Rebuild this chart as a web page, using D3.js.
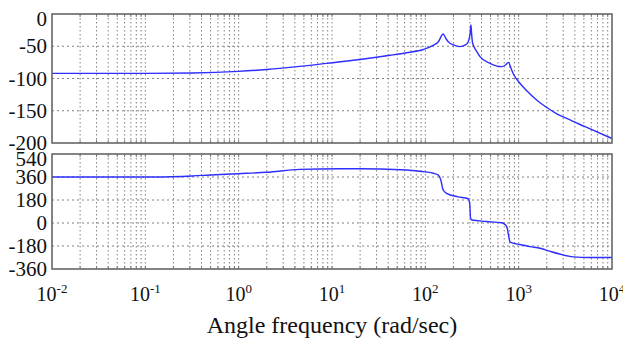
<!DOCTYPE html>
<html>
<head>
<meta charset="utf-8">
<script src="https://cdn.jsdelivr.net/npm/d3@7"></script>
<style>
  html, body { margin: 0; padding: 0; background: #fff; }
  svg { display: block; }
</style>
</head>
<body style="font-family:'Liberation Serif'">
<svg id="chart" width="623" height="340" style="font-family:'Liberation Serif'"></svg>
<script>
// Bode plot: magnitude (dB) on top, phase (deg) below, shared log frequency axis.

const xTickExps = [-2, -1, 0, 1, 2, 3, 4];
const magTicks = [0, -50, -100, -150, -200];
const phaseTicks = [540, 360, 180, 0, -180, -360];

// frequency (rad/sec) and magnitude (dB)
const magFreq = [0.01, 0.1, 0.32, 1, 2, 4, 8.8, 20, 42, 63, 95, 120, 138, 155, 166, 176,
  200, 234, 269, 288, 302, 308, 313, 321, 355, 385, 493, 658, 724, 775, 832, 877, 1000,
  1220, 1580, 2000, 2510, 3270, 5010, 10000];
const magDb = [-92, -92, -91.5, -89, -86, -82, -76.5, -70.5, -64, -60, -55, -49, -43, -31, -38, -43,
  -48, -50.6, -48, -43, -30, -17, -30, -45, -58, -66, -76.5, -81.6, -79, -75, -85, -93, -105,
  -119, -134, -145, -154, -162, -174, -193];

// frequency (rad/sec) and phase (deg)
const phaseFreq = [0.01, 0.126, 0.32, 0.5, 1, 2, 4.5, 12.2, 32.7, 63, 100, 122, 138, 146, 155, 169,
  224, 288, 299, 305, 314, 447, 658, 724, 755, 785, 807, 891, 1030, 1320, 1700, 2240,
  2750, 3850, 5620, 10000];
const phaseDeg = [360, 360, 368, 376, 386, 397, 420, 425, 423, 415, 400, 389, 375, 340, 260, 232,
  205, 190, 150, 40, 23, 12, 2, -15, -41, -110, -146, -160, -168, -185, -198, -225,
  -243, -265, -270, -270];

const svg = d3.select("#chart");
const left = 52, right = 612;
const FONT = "Liberation Serif";

const x = d3.scaleLog().domain([1e-2, 1e4]).range([left, right]);

const panels = [
  { top: 14, bottom: 143, domain: [-200, 0], ticks: magTicks, freq: magFreq, vals: magDb },
  { top: 154, bottom: 269, domain: [-360, 540], ticks: phaseTicks, freq: phaseFreq, vals: phaseDeg },
];

// all decade + minor frequencies for the vertical grid
const gridFreqs = [];
xTickExps.forEach((e, i) => {
  if (i === xTickExps.length - 1) return;
  for (let k = 1; k <= 9; k++) gridFreqs.push(k * Math.pow(10, e));
});

panels.forEach(p => {
  const y = d3.scaleLinear().domain(p.domain).range([p.bottom, p.top]);
  const g = svg.append("g");

  // vertical dotted grid
  g.selectAll("line.vgrid").data(gridFreqs.slice(1))
    .join("line")
    .attr("class", "vgrid")
    .attr("x1", d => x(d)).attr("x2", d => x(d))
    .attr("y1", p.top).attr("y2", p.bottom)
    .attr("stroke", "#808080").attr("stroke-width", 1)
    .attr("stroke-dasharray", "1.5,2.5");

  // horizontal dotted grid
  g.selectAll("line.hgrid").data(p.ticks.slice(1, -1))
    .join("line")
    .attr("class", "hgrid")
    .attr("x1", left).attr("x2", right)
    .attr("y1", d => y(d)).attr("y2", d => y(d))
    .attr("stroke", "#808080").attr("stroke-width", 1)
    .attr("stroke-dasharray", "2,3");

  // inward minor ticks on top/bottom edges
  [p.top, p.bottom].forEach((yy, i) => {
    g.selectAll(null).data(gridFreqs.slice(1))
      .join("line")
      .attr("x1", d => x(d)).attr("x2", d => x(d))
      .attr("y1", yy).attr("y2", i ? yy - 3 : yy + 3)
      .attr("stroke", "#777").attr("stroke-width", 1);
  });

  // curve
  const line = d3.line()
    .x((d, i) => x(p.freq[i]))
    .y(d => y(d))
    .curve(d3.curveMonotoneX);
  g.append("path")
    .datum(p.vals)
    .attr("d", line)
    .attr("fill", "none")
    .attr("stroke", "#2e2eff")
    .attr("stroke-width", 1.4);

  // frame
  g.append("rect")
    .attr("x", left).attr("y", p.top)
    .attr("width", right - left).attr("height", p.bottom - p.top)
    .attr("fill", "none")
    .attr("stroke", "#666").attr("stroke-width", 1.6);

  // y tick labels (the top one is pushed down to fit)
  g.selectAll("text.ylab").data(p.ticks)
    .join("text")
    .attr("class", "ylab")
    .attr("x", left - 5)
    .attr("y", (d, i) => y(d) + (i === 0 ? 5 : 0))
    .attr("dy", "0.34em")
    .attr("text-anchor", "end")
    .style("font-family", FONT)
    .style("font-size", "21px")
    .attr("fill", "#111")
    .text(d => d < 0 ? "-" + Math.abs(d) : d);
});

// x tick labels 10^n
const xl = svg.append("g").selectAll("text").data(xTickExps)
  .join("text")
  .attr("x", d => x(Math.pow(10, d)))
  .attr("y", 301)
  .attr("text-anchor", "middle")
  .style("font-family", FONT)
  .style("font-size", "20px")
  .attr("fill", "#111");
xl.append("tspan").text("10");
xl.append("tspan")
  .attr("dy", -8)
  .style("font-size", "13px")
  .text(d => d < 0 ? "-" + Math.abs(d) : d);

svg.append("text")
  .attr("x", (left + right) / 2)
  .attr("y", 333)
  .attr("text-anchor", "middle")
  .style("font-family", FONT)
  .style("font-size", "24px")
  .attr("fill", "#111")
  .text("Angle frequency (rad/sec)");
</script>
</body>
</html>
